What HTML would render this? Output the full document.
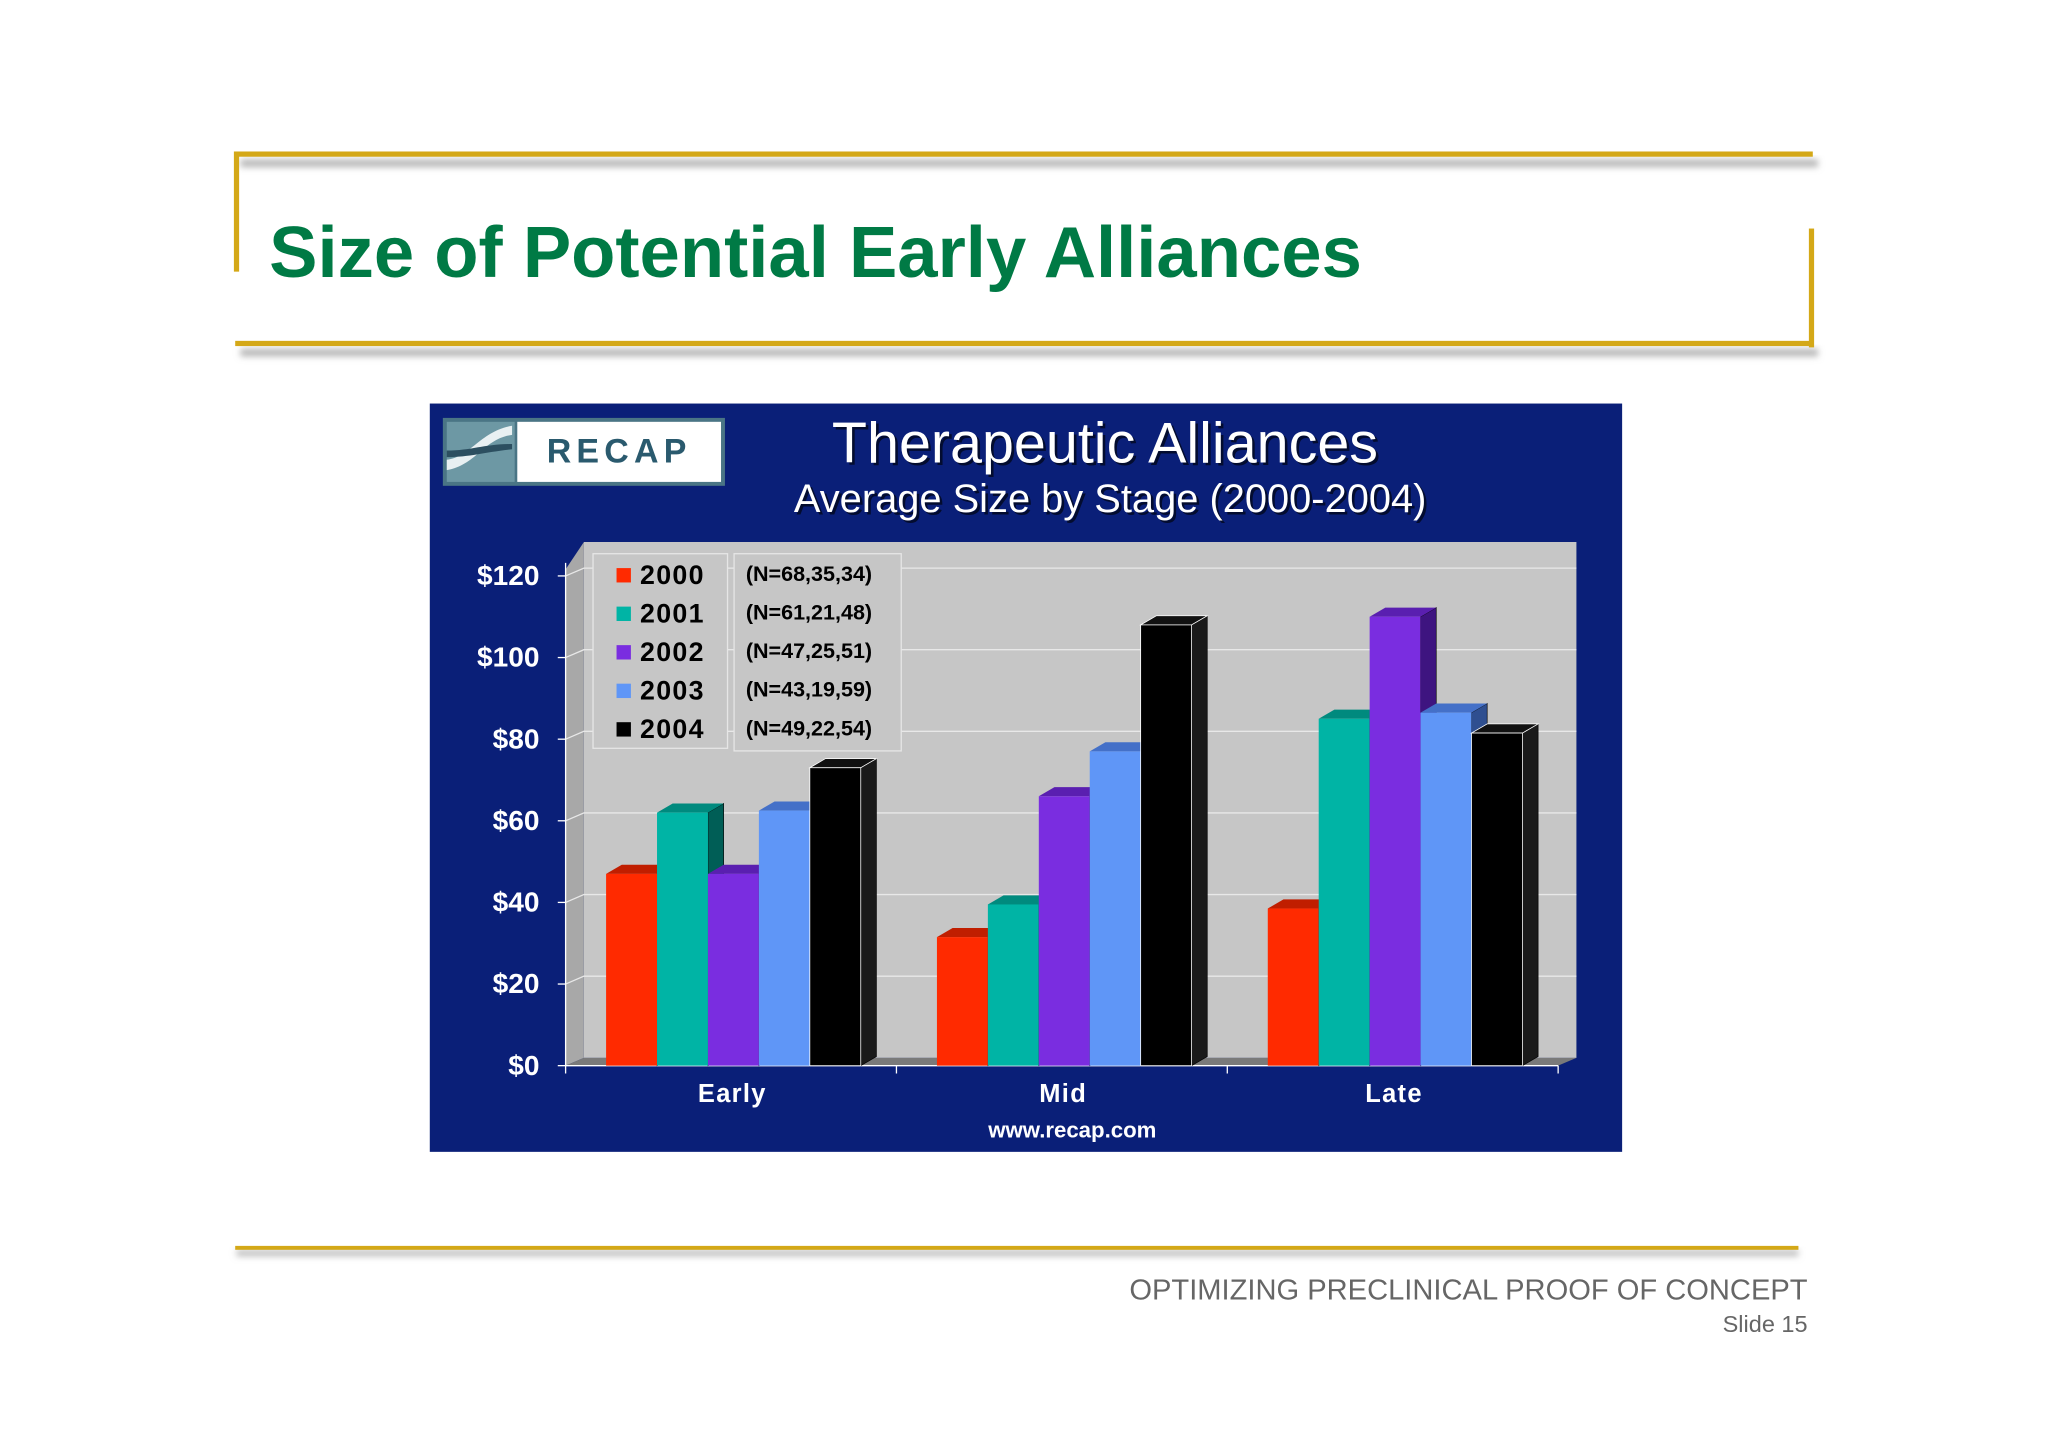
<!DOCTYPE html>
<html><head><meta charset="utf-8"><style>
html,body{margin:0;padding:0;background:#fff;}
svg{display:block;font-family:"Liberation Sans",sans-serif;}
</style></head><body>
<svg id="s" width="2048" height="1447" viewBox="0 0 1568 1108" xmlns="http://www.w3.org/2000/svg">
<defs>
<filter id="sh" x="-5%" y="-50%" width="110%" height="300%"><feGaussianBlur stdDeviation="2.5"/></filter>
</defs>
<rect x="0" y="0" width="1568" height="1108" fill="#ffffff"/>
<g>
<rect x="184" y="122" width="1208" height="6" fill="#b8b8b8" filter="url(#sh)"/>
<rect x="184" y="267" width="1208" height="6" fill="#b8b8b8" filter="url(#sh)"/>
<rect x="180" y="116" width="1208" height="4" fill="#d4a817"/>
<rect x="179" y="116" width="4" height="92" fill="#d4a817"/>
<rect x="1385" y="175" width="4" height="91" fill="#d4a817"/>
<rect x="180" y="261" width="1208" height="4" fill="#d4a817"/>
</g>
<text x="206" y="212" font-size="55.5" font-weight="bold" fill="#007a45">Size of Potential Early Alliances</text>

<rect x="329" y="309" width="913" height="573" fill="#0a1f78"/>
<g>
<rect x="339" y="320" width="216" height="52" fill="#4a7585"/>
<rect x="342" y="323" width="52" height="46" fill="#6d98a4"/>
<path d="M342 352 C360 350,368 330,392 326 L392 333 C370 336,365 356,342 360 Z" fill="#e8f0f2"/>
<path d="M342 345 C362 345,370 340,392 340 L392 344 C372 346,360 350,342 350 Z" fill="#2c4f60"/>
<rect x="396" y="323" width="156" height="46" fill="#ffffff"/>
<text x="474" y="354" font-size="26" font-weight="bold" fill="#2a5a6e" text-anchor="middle" letter-spacing="4">RECAP</text>
</g>
<text x="846" y="354" font-size="44" fill="#000" opacity="0.6" text-anchor="middle" transform="translate(2,2)">Therapeutic Alliances</text>
<text x="846" y="354" font-size="44" fill="#ffffff" text-anchor="middle">Therapeutic Alliances</text>
<text x="850" y="392" font-size="30.5" fill="#000" opacity="0.6" text-anchor="middle" transform="translate(2,2)">Average Size by Stage (2000-2004)</text>
<text x="850" y="392" font-size="30.5" fill="#ffffff" text-anchor="middle">Average Size by Stage (2000-2004)</text>

<g id="plot"></g>

<text x="821" y="871" font-size="17" font-weight="bold" fill="#fff" text-anchor="middle">www.recap.com</text>

<rect x="181" y="957" width="1196" height="5" fill="#c0c0c0" filter="url(#sh)"/>
<rect x="180" y="954" width="1197" height="3" fill="#d4a817"/>
<text x="1384" y="995" font-size="22.3" fill="#666" text-anchor="end">OPTIMIZING PRECLINICAL PROOF OF CONCEPT</text>
<text x="1384" y="1020" font-size="18" fill="#666" text-anchor="end">Slide 15</text>
</svg>
<script>
const categories = ["Early", "Mid", "Late"];
const seriesNames = ["2000", "2001", "2002", "2003", "2004"];
const seriesN = ["(N=68,35,34)", "(N=61,21,48)", "(N=47,25,51)", "(N=43,19,59)", "(N=49,22,54)"];
const v2000 = [47, 31.5, 38.5];
const v2001 = [62, 39.5, 85];
const v2002 = [47, 66, 110];
const v2003 = [62.5, 77, 86.5];
const v2004 = [73, 108, 81.5];
const yTicks = [0, 20, 40, 60, 80, 100, 120];
const yTickLabels = ["$0", "$20", "$40", "$60", "$80", "$100", "$120"];

const series = [v2000, v2001, v2002, v2003, v2004];
const fronts = ["#ff2a00", "#00b4a5", "#7a2de0", "#5f96f7", "#000000"];
const tops = ["#c01e00", "#008a7e", "#5a1fb0", "#4470c8", "#111111"];
const sides = ["#901500", "#005e56", "#3e1480", "#2f4f90", "#1a1a1a"];
const NS = "http://www.w3.org/2000/svg";
const g = document.getElementById("plot");
const x0 = 433, x1 = 1193, yBase = 816, dx = 14, dy = -6;
const yMax = 120, yTop = 441;
function y(v){ return yBase - (v / yMax) * (yBase - yTop); }
const groupW = (x1 - x0) / categories.length;
function xCat(i){ return x0 + i * groupW; }
const barW = 39, gOff = 31;
function mk(tag, attrs){ const e = document.createElementNS(NS, tag); for (const k in attrs) e.setAttribute(k, attrs[k]); g.appendChild(e); return e; }

let e = mk("polygon", {points: `${x0+dx},${yBase+dy-395} ${x1+dx},${yBase+dy-395} ${x1+dx},${yBase+dy} ${x0+dx},${yBase+dy}`, fill: "#c6c6c6"});


e = mk("polygon", {points: `${x0},${yBase-380} ${x0+dx},${yBase+dy-395} ${x0+dx},${yBase+dy} ${x0},${yBase}`, fill: "#a8a8a8"});


e = mk("polygon", {points: `${x0},${yBase} ${x0+dx},${yBase+dy} ${x1+dx},${yBase+dy} ${x1},${yBase}`, fill: "#7a7a7a"});



yTicks.forEach((t, i) => {
  const yy = y(t);
  if (t > 0) {
    const l = mk("polyline", {points: `${x0},${yy} ${x0+dx},${yy+dy} ${x1+dx},${yy+dy}`, fill: "none", stroke: "#e8e8e8", "stroke-width": 1});
    
    
  }
  const tk = mk("line", {x1: x0-6, y1: yy, x2: x0, y2: yy, stroke: "#fff", "stroke-width": 1});
  
  
  const tx = mk("text", {x: 413, y: yy+7, "font-size": 21.5, "font-weight": "bold", fill: "#fff", "text-anchor": "end"});
  tx.textContent = yTickLabels[i];
  
  
});
e = mk("line", {x1: x0, y1: y(yMax)-10, x2: x0, y2: yBase, stroke: "#fff", "stroke-width": 1});


e = mk("line", {x1: x0, y1: yBase, x2: x1, y2: yBase, stroke: "#fff", "stroke-width": 1});



for (let i = 0; i <= categories.length; i++) {
  const tk = mk("line", {x1: xCat(i), y1: yBase, x2: xCat(i), y2: yBase+6, stroke: "#fff"});
  
  
}

const bdx = 12, bdy = -7;
categories.forEach((c, ci) => {
  series.forEach((s, si) => {
    const v = s[ci];
    const bx = xCat(ci) + gOff + si * barW;
    const by = y(v);
    const side = mk("polygon", {points: `${bx+barW},${by} ${bx+barW+bdx},${by+bdy} ${bx+barW+bdx},${yBase+bdy} ${bx+barW},${yBase}`, fill: sides[si], stroke: "#000", "stroke-width": 0.5});
    
    
  });
  series.forEach((s, si) => {
    const v = s[ci];
    const bx = xCat(ci) + gOff + si * barW;
    const by = y(v);
    const top = mk("polygon", {points: `${bx},${by} ${bx+bdx},${by+bdy} ${bx+barW+bdx},${by+bdy} ${bx+barW},${by}`, fill: tops[si], stroke: si===4?"#fff":"none", "stroke-width": 0.6});
    
    
    const r = mk("rect", {x: bx, y: by, width: barW, height: yBase - by, fill: fronts[si], stroke: si===4?"#fff":"none", "stroke-width": 0.6});
    
    
  });
  const t = mk("text", {x: xCat(ci) + groupW/2 + 1, y: 844, "font-size": 19.5, "font-weight": "bold", fill: "#fff", "text-anchor": "middle", "letter-spacing": 1});
  t.textContent = c;
  
  
});

e = mk("rect", {x: 454, y: 424, width: 103, height: 149, fill: "#c6c6c6", stroke: "#e6e6e6", "stroke-width": 1});


e = mk("rect", {x: 562, y: 424, width: 128, height: 151, fill: "#c6c6c6", stroke: "#e6e6e6", "stroke-width": 1});


seriesNames.forEach((n, i) => {
  const yy = 441 + i * 29.5;
  const sq = mk("rect", {x: 472, y: yy-6, width: 11, height: 11, fill: fronts[i]});
  
  
  const t = mk("text", {x: 490, y: yy+6, "font-size": 20.5, "font-weight": "bold", fill: "#000", "letter-spacing": 1});
  t.textContent = n;
  
  
  const tn = mk("text", {x: 571, y: yy+4, "font-size": 16.5, "font-weight": "bold", fill: "#000"});
  tn.textContent = seriesN[i];
  
  
});
</script>
</body></html>
